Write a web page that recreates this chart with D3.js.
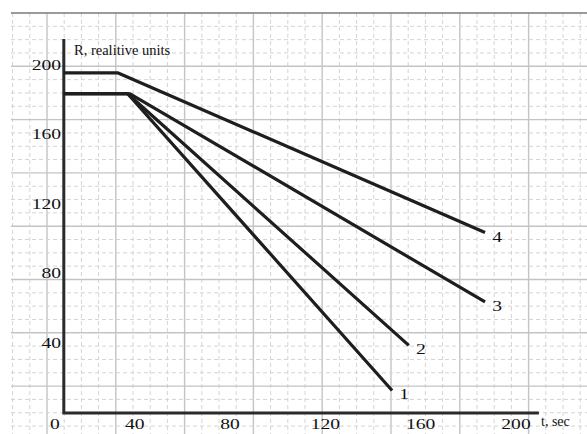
<!DOCTYPE html>
<html>
<head>
<meta charset="utf-8">
<script src="https://cdn.jsdelivr.net/npm/d3@7"></script>
<style>
  body { margin: 0; background: #fff; }
  svg { display: block; }
</style>
</head>
<body>
<svg id="chart" width="587" height="434"></svg>
<script>
// values (t in sec, R in relative units)
var tickT = [40, 80, 120, 160, 200];
var tickR = [40, 80, 120, 160, 200];
var seriesNames = ['1', '2', '3', '4'];
var series1 = [[10.2, 184], [37, 184], [148, 13]];
var series2 = [[10.2, 184], [37, 184], [155, 39]];
var series3 = [[10.2, 184], [38, 184], [187, 64]];
var series4 = [[10.2, 196], [33, 196], [187, 104]];
var allSeries = [series1, series2, series3, series4];
var axisT = [10.2, 209.6];
var axisR = [0, 215.6];

var W = 587, H = 434;
var svg = d3.select('#chart');

var x = d3.scaleLinear().domain([0, 200]).range([39.5, 516]);
var y = d3.scaleLinear().domain([0, 200]).range([413, 66]);

// graph paper background
function drawPaper() {
  var g = svg.append('g');
  var left = 11, top = 13;
  var majX = 68.8, majY = 53.3;
  var x0 = 47 - majX;
  d3.range(0, 40).forEach(function(i) {
    var px = x0 + i * majX / 4;
    if (px < left || px > W) return;
    var major = i % 4 === 0;
    g.append('line')
      .attr('x1', px).attr('x2', px)
      .attr('y1', top).attr('y2', H)
      .attr('stroke', major ? '#c4c4c4' : '#d4d4d4')
      .attr('stroke-width', major ? 1.4 : 1)
      .attr('stroke-dasharray', major ? null : '4,3');
  });
  d3.range(1, 40).forEach(function(i) {
    var py = top + i * majY / 4;
    if (py > H) return;
    var major = i % 4 === 0;
    g.append('line')
      .attr('x1', left).attr('x2', W)
      .attr('y1', py).attr('y2', py)
      .attr('stroke', major ? '#c4c4c4' : '#d4d4d4')
      .attr('stroke-width', major ? 1.4 : 1)
      .attr('stroke-dasharray', major ? null : '4,3');
  });
  g.append('line')
    .attr('x1', left).attr('x2', W)
    .attr('y1', top).attr('y2', top)
    .attr('stroke', '#7a7a7a')
    .attr('stroke-width', 1.5);
}

function stretchedText(g, px, py, txt, anchor) {
  return g.append('text')
    .attr('transform', 'translate(' + px + ',' + py + ') scale(1.35,1)')
    .attr('text-anchor', anchor)
    .attr('font-family', 'Liberation Serif, serif')
    .attr('font-size', 14.5)
    .attr('fill', '#111')
    .text(txt);
}

drawPaper();

// axes
var axes = svg.append('g')
  .attr('stroke', '#2a2a2a')
  .attr('stroke-width', 3)
  .attr('fill', 'none');
axes.append('path')
  .attr('d', d3.line()([
    [x(axisT[0]), y(axisR[1])],
    [x(axisT[0]), y(axisR[0])],
    [x(axisT[1]), y(axisR[0])]
  ]));

// tick labels
var labels = svg.append('g');
tickT.forEach(function(t) {
  stretchedText(labels, x(t), 429, String(t), 'middle');
});
tickR.forEach(function(r) {
  stretchedText(labels, 61, y(r) + 4, String(r), 'end');
});
stretchedText(labels, 55, 429, '0', 'middle');

labels.append('text')
  .attr('x', 74).attr('y', 55)
  .attr('font-family', 'Liberation Serif, serif')
  .attr('font-size', 14.5)
  .attr('fill', '#111')
  .text('R, realitive units');
labels.append('text')
  .attr('x', 541).attr('y', 426)
  .attr('font-family', 'Liberation Serif, serif')
  .attr('font-size', 14)
  .attr('fill', '#111')
  .text('t, sec');

// curves
var line = d3.line()
  .x(function(d) { return x(d[0]); })
  .y(function(d) { return y(d[1]); });

allSeries.forEach(function(s, i) {
  svg.append('path')
    .attr('d', line(s))
    .attr('fill', 'none')
    .attr('stroke', '#1e1e1e')
    .attr('stroke-width', 3.2)
    .attr('stroke-linejoin', 'round');
  var end = s[s.length - 1];
  stretchedText(labels, x(end[0]) + 12, y(end[1]) + 9, seriesNames[i], 'middle');
});
</script>
</body>
</html>
